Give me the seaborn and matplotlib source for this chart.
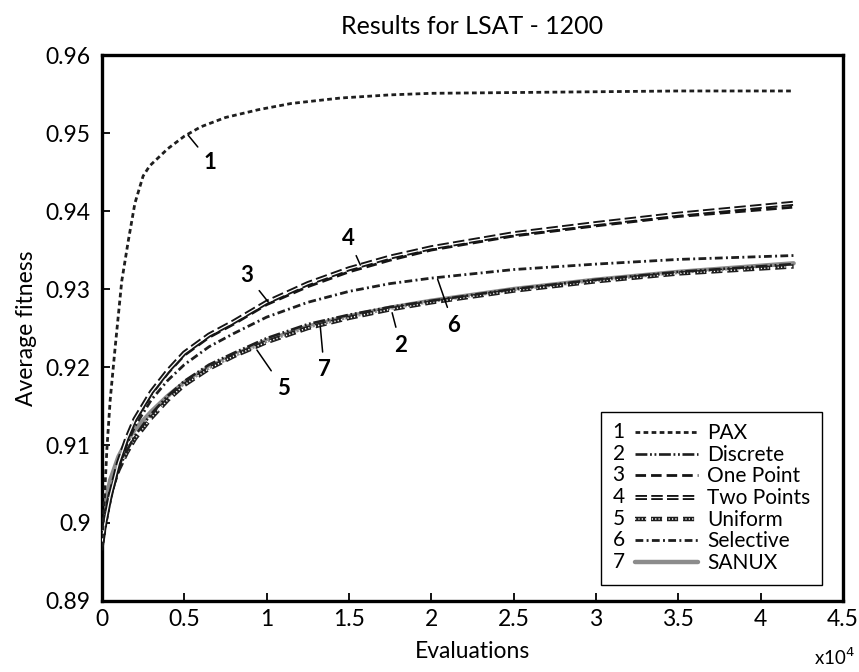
import numpy as np
import pandas as pd
import matplotlib
matplotlib.use("Agg")
import matplotlib.pyplot as plt
import seaborn as sns
from matplotlib.lines import Line2D
from matplotlib.legend_handler import HandlerLine2D
from matplotlib.text import Text
from matplotlib.ticker import FuncFormatter, FixedLocator

# ---------------- data ----------------
evals = [0, 200, 500, 1000, 1500, 2000, 3000, 4000, 5000, 6500, 8000,
         10000, 12500, 15000, 17500, 20000, 25000, 30000, 35000, 42000]

pax_evals = [0, 100, 300, 500, 800, 1200, 1600, 2000, 2500, 2900, 3500, 4000,
             5000, 6000, 7500, 9500, 11500, 14500, 17500, 20000, 25000, 30000,
             35000, 42000]
pax = [0.897, 0.901, 0.9095, 0.9158, 0.9225, 0.9310, 0.9362, 0.9410, 0.9445,
       0.9458, 0.9470, 0.9480, 0.9496, 0.9508, 0.9520, 0.9530, 0.9538, 0.9545,
       0.9549, 0.9551, 0.9552, 0.9553, 0.9554, 0.9554]

discrete = [0.8975, 0.9005, 0.9035, 0.9068, 0.9092, 0.9112, 0.9140, 0.9163,
            0.9182, 0.9203, 0.9218, 0.9237, 0.9255, 0.9267, 0.9277, 0.9285,
            0.9300, 0.9312, 0.9322, 0.9332]
one_point = [0.8965, 0.8995, 0.9028, 0.9072, 0.9105, 0.9130, 0.9165, 0.9192,
             0.9215, 0.9238, 0.9255, 0.9280, 0.9303, 0.9322, 0.9337, 0.9350,
             0.9368, 0.9381, 0.9393, 0.9405]
two_points = [0.8975, 0.9003, 0.9035, 0.9077, 0.9108, 0.9133, 0.9168, 0.9195,
              0.9218, 0.9241, 0.9258, 0.9283, 0.9307, 0.9326, 0.9341, 0.9353,
              0.9371, 0.9384, 0.9396, 0.9410]
uniform = [0.8985, 0.9010, 0.9038, 0.9068, 0.9090, 0.9108, 0.9135, 0.9158,
           0.9177, 0.9198, 0.9214, 0.9232, 0.9250, 0.9263, 0.9274, 0.9283,
           0.9298, 0.9310, 0.9320, 0.9329]
selective = [0.8970, 0.8998, 0.9030, 0.9070, 0.9100, 0.9124, 0.9158, 0.9183,
             0.9203, 0.9226, 0.9243, 0.9264, 0.9283, 0.9297, 0.9307, 0.9314,
             0.9325, 0.9332, 0.9338, 0.9343]
sanux = [0.8990, 0.9025, 0.9055, 0.9085, 0.9105, 0.9120, 0.9143, 0.9163,
         0.9180, 0.9200, 0.9215, 0.9234, 0.9252, 0.9265, 0.9276, 0.9285,
         0.9300, 0.9312, 0.9322, 0.9333]

names = ["PAX", "Discrete", "One Point", "Two Points", "Uniform", "Selective", "SANUX"]
x_ticks = [0, 5000, 10000, 15000, 20000, 25000, 30000, 35000, 40000, 45000]
y_ticks = [0.89, 0.90, 0.91, 0.92, 0.93, 0.94, 0.95, 0.96]

# curve-label annotations: (number, curve point, text position)
ann_nums = ["1", "3", "4", "6", "2", "5", "7"]
ann_xy = [(5230, 0.94974), (10100, 0.92833), (15690, 0.93308), (20380, 0.93128),
          (17620, 0.92696), (9410, 0.92218), (13260, 0.92513)]
ann_text = [(6570, 0.94628), (8800, 0.93179), (14960, 0.93654), (21350, 0.92538),
            (18130, 0.92282), (11000, 0.91731), (13500, 0.91962)]

# ---------------- style ----------------
sns.set_theme(style="white")
plt.rcParams["font.family"] = ["Lato", "DejaVu Sans"]
plt.rcParams["text.color"] = "black"
plt.rcParams["axes.labelcolor"] = "black"
plt.rcParams["xtick.color"] = "black"
plt.rcParams["ytick.color"] = "black"

fig, ax = plt.subplots(figsize=(8.59, 6.72), dpi=100)
fig.subplots_adjust(left=0.1187, right=0.9814, top=0.918, bottom=0.1057)

series = {
    "PAX": (pax_evals, pax),
    "Discrete": (evals, discrete),
    "One Point": (evals, one_point),
    "Two Points": (evals, two_points),
    "Uniform": (evals, uniform),
    "Selective": (evals, selective),
    "SANUX": (evals, sanux),
}
styles = {
    "PAX": dict(color="#1e1e1e", lw=2.0, linestyle=(0, (1.7, 1.2))),
    "Discrete": dict(color="#1e1e1e", lw=1.9, linestyle=(0, (4.5, 1.0, 0.7, 1.0, 0.7, 1.0))),
    "One Point": dict(color="#141414", lw=2.0, linestyle=(0, (3.8, 1.8))),
    "Two Points": dict(color="#141414", lw=3.6, linestyle=(0, (2.3, 0.85))),
    "Uniform": dict(color="#1e1e1e", lw=3.2, linestyle=(0, (2.5, 1.1))),
    "Selective": dict(color="#1e1e1e", lw=2.0, linestyle=(0, (2.8, 1.2, 0.7, 1.2))),
    "SANUX": dict(color="#8c8c8c", lw=3.2, linestyle="-"),
}
overlays = {
    "Two Points": dict(color="white", lw=0.9, linestyle="-"),
    "Uniform": dict(color="white", lw=1.1, linestyle=(0, (0.8, 1.4))),
}

draw_order = ["SANUX", "Uniform", "Discrete", "Selective", "One Point", "Two Points", "PAX"]
for k, name in enumerate(draw_order):
    xs, ys = series[name]
    df = pd.DataFrame({"Evaluations": xs, "fitness": ys})
    sns.lineplot(data=df, x="Evaluations", y="fitness", ax=ax, estimator=None,
                 zorder=2 + k, **styles[name])
    if name in overlays:
        sns.lineplot(data=df, x="Evaluations", y="fitness", ax=ax, estimator=None,
                     zorder=2 + k + 0.5, **overlays[name])

# curve labels with leader lines
for num, xy, xt in zip(ann_nums, ann_xy, ann_text):
    ax.annotate(num, xy=xy, xytext=xt, ha="center", va="center",
                fontsize=16, fontweight="bold", color="black",
                arrowprops=dict(arrowstyle="-", color="black", lw=1.1,
                                shrinkA=3, shrinkB=0), zorder=20)

# axes
ax.set_xlim(0, 45000)
ax.set_ylim(0.89, 0.96)
ax.xaxis.set_major_locator(FixedLocator(x_ticks))
ax.yaxis.set_major_locator(FixedLocator(y_ticks))
ax.xaxis.set_major_formatter(FuncFormatter(lambda v, p: f"{v / 1e4:g}"))
ax.yaxis.set_major_formatter(FuncFormatter(lambda v, p: f"{round(v, 2):g}"))
ax.tick_params(axis="both", direction="in", length=6, width=1.3,
               bottom=True, left=True, top=False, right=False,
               labelsize=16.5, colors="black")
ax.tick_params(axis="y", pad=8)
ax.tick_params(axis="x", pad=6)
for sp in ax.spines.values():
    sp.set_visible(True)
    sp.set_color("black")
    sp.set_linewidth(2.4)

ax.set_xlabel("Evaluations", fontsize=16.5, labelpad=8)
ax.set_ylabel("Average fitness", fontsize=16.5, labelpad=6)
ax.set_title("Results for LSAT - 1200", fontsize=18, pad=15)
ax.text(0.989, -0.103, r"x10$^{4}$", transform=ax.transAxes, ha="center",
        va="center", fontsize=13.5)


# legend with numbers in front of the line samples
class NumHandler(HandlerLine2D):
    def __init__(self, num, overlay=None, **kw):
        super().__init__(**kw)
        self.num = num
        self.overlay = overlay

    def get_xdata(self, legend, xdescent, ydescent, width, height, fontsize):
        x0 = -xdescent + 0.26 * width
        x1 = -xdescent + width
        return np.array([x0, x1]), np.array([x0, x1])

    def create_artists(self, legend, orig_handle, xdescent, ydescent, width,
                       height, fontsize, trans):
        arts = list(super().create_artists(legend, orig_handle, xdescent, ydescent,
                                           width, height, fontsize, trans))
        y = (height - ydescent) / 2
        if self.overlay is not None:
            xd, _ = self.get_xdata(legend, xdescent, ydescent, width, height, fontsize)
            ov = Line2D(xd, [y, y], **self.overlay)
            ov.set_transform(trans)
            arts.append(ov)
        t = Text(-xdescent, y, str(self.num), ha="left", va="center",
                 fontsize=fontsize, color="black")
        t.set_transform(trans)
        arts.append(t)
        return arts


handles = []
hmap = {}
for i, name in enumerate(names):
    st = styles[name]
    h = Line2D([], [], color=st["color"], lw=st["lw"], linestyle=st["linestyle"])
    handles.append(h)
    hmap[h] = NumHandler(i + 1, overlays.get(name))

leg = ax.legend(handles, names, handler_map=hmap, loc="lower right",
                bbox_to_anchor=(0.9717, 0.03), borderaxespad=0, fontsize=15,
                handlelength=4.1, handletextpad=0.45, labelspacing=0.08,
                borderpad=0.55, frameon=True, fancybox=False, framealpha=1)
leg.get_frame().set_edgecolor("black")
leg.get_frame().set_linewidth(1.0)
leg.set_zorder(30)

fig.savefig("out.png", dpi=100)
